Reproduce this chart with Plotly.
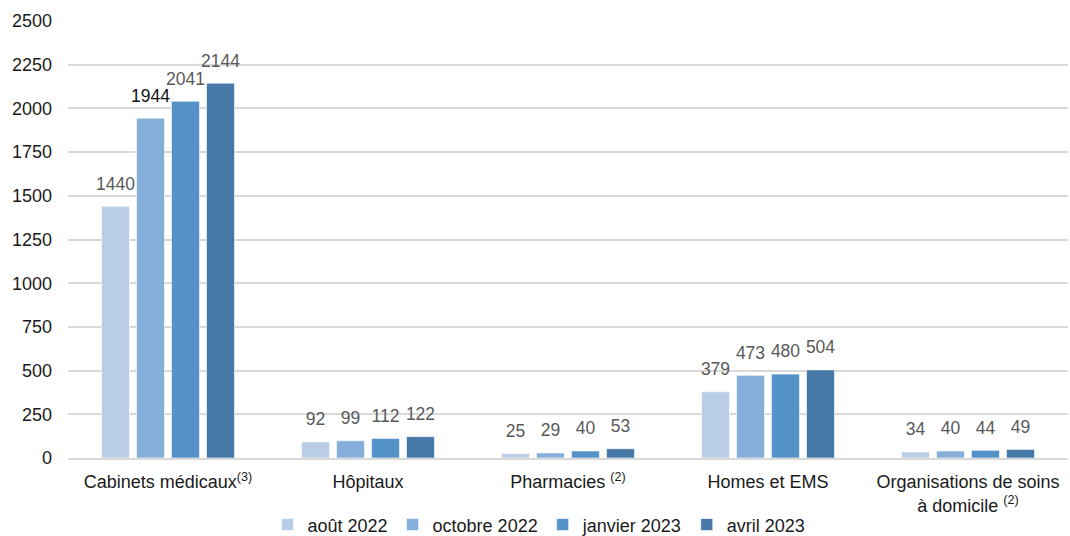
import plotly.graph_objects as go

categories = [
    "Cabinets médicaux<sup>(3)</sup>",
    "Hôpitaux",
    "Pharmacies <sup>(2)</sup>",
    "Homes et EMS",
    "Organisations de soins<br>à domicile <sup>(2)</sup>",
]
series_names = ["août 2022", "octobre 2022", "janvier 2023", "avril 2023"]
aout_2022 = [1440, 92, 25, 379, 34]
octobre_2022 = [1944, 99, 29, 473, 40]
janvier_2023 = [2041, 112, 40, 480, 44]
avril_2023 = [2144, 122, 53, 504, 49]
y_ticks = [0, 250, 500, 750, 1000, 1250, 1500, 1750, 2000, 2250, 2500]

series_values = [aout_2022, octobre_2022, janvier_2023, avril_2023]
colors = ["#B9CDE6", "#85AEDB", "#5592C8", "#4678A8"]
FONT = "Liberation Sans, Arial, sans-serif"

fig = go.Figure()
for name, vals, col in zip(series_names, series_values, colors):
    fig.add_trace(go.Bar(
        name=name,
        x=categories,
        y=vals,
        marker=dict(color=col, line=dict(color="rgba(255,255,255,0.6)", width=1)),
        hoverinfo="skip",
    ))

# value labels, grouped like the bars, with a small gap above each bar
for name, vals in zip(series_names, series_values):
    tcolors = ["#595959"] * len(vals)
    if name == "octobre 2022":
        tcolors[0] = "#111111"
    fig.add_trace(go.Scatter(
        x=categories,
        y=vals,
        mode="markers+text",
        text=[str(v) for v in vals],
        textposition="top center",
        textfont=dict(family=FONT, size=17.5, color=tcolors),
        marker=dict(size=18, opacity=0),
        showlegend=False,
        hoverinfo="skip",
        cliponaxis=False,
    ))

fig.update_layout(
    width=1070,
    height=536,
    margin=dict(l=68, r=2, t=21, b=78, autoexpand=False),
    paper_bgcolor="white",
    plot_bgcolor="white",
    barmode="group",
    scattermode="group",
    bargap=0.3,
    scattergap=0.3,
    bargroupgap=0.2,
    font=dict(family=FONT, size=18, color="#1a1a1a"),
    legend=dict(
        orientation="h",
        x=0.471,
        xanchor="center",
        y=-0.153,
        yanchor="middle",
        font=dict(family=FONT, size=18, color="#1a1a1a"),
        itemwidth=30,
        tracegroupgap=0,
    ),
)
fig.update_yaxes(
    range=[0, 2500],
    tickvals=y_ticks,
    ticktext=[str(t) for t in y_ticks],
    showgrid=True,
    gridcolor="#D9D9D9",
    gridwidth=1.5,
    zeroline=False,
    showline=False,
    ticks="",
    automargin=False,
    ticklabelstandoff=15,
    tickfont=dict(family=FONT, size=18, color="#1a1a1a"),
)
fig.update_xaxes(
    showline=True,
    linecolor="#D9D9D9",
    linewidth=1.5,
    ticks="",
    automargin=False,
    ticklabelstandoff=7,
    tickfont=dict(family=FONT, size=18, color="#1a1a1a"),
)

fig.write_html(
    "out.html",
    config={"displayModeBar": False},
    post_script="document.body.style.margin='0';document.documentElement.style.overflow='hidden';",
)
